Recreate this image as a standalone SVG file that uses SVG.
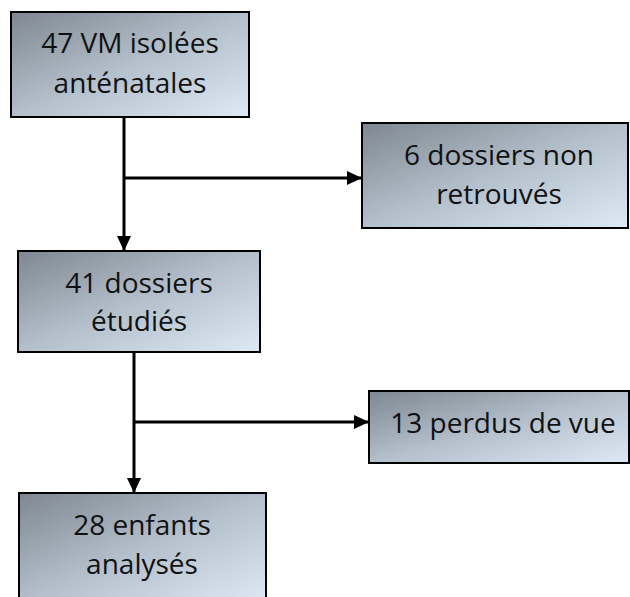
<svg xmlns="http://www.w3.org/2000/svg" width="630" height="597" viewBox="0 0 630 597">
<defs>
<linearGradient id="g" x1="0" y1="0" x2="1" y2="1">
<stop offset="0" stop-color="#7e8791"/>
<stop offset="0.5" stop-color="#b3bfcb"/>
<stop offset="1" stop-color="#dde9f5"/>
</linearGradient>
<marker id="ah" markerUnits="userSpaceOnUse" markerWidth="16" markerHeight="14" refX="15" refY="7" orient="auto">
<path d="M0,0 L15,7 L0,14 Z" fill="#000"/>
</marker>
<style>
.box{fill:url(#g);stroke:#000;stroke-width:2}
.t{font-family:"Open Sans","Noto Sans",sans-serif;font-size:28px;fill:#111;text-anchor:middle}
.c{stroke:#000;stroke-width:3;fill:none}
</style>
</defs>
<g id="connectors">
<line class="c" x1="124" y1="117" x2="124" y2="251" marker-end="url(#ah)"/>
<line class="c" x1="124" y1="178" x2="362" y2="178" marker-end="url(#ah)"/>
<line class="c" x1="134" y1="352" x2="134" y2="493" marker-end="url(#ah)"/>
<line class="c" x1="134" y1="422" x2="369" y2="422" marker-end="url(#ah)"/>
</g>
<g id="n1">
<rect class="box" x="11" y="12" width="238" height="105"/>
<text class="t" x="130" y="53">47 VM isolées</text>
<text class="t" x="130" y="93">anténatales</text>
</g>
<g id="n2">
<rect class="box" x="362" y="123" width="266" height="105"/>
<text class="t" x="499" y="165">6 dossiers non</text>
<text class="t" x="499" y="204">retrouvés</text>
</g>
<g id="n3">
<rect class="box" x="18" y="251" width="242" height="101"/>
<text class="t" x="139" y="293">41 dossiers</text>
<text class="t" x="139" y="331">étudiés</text>
</g>
<g id="n4">
<rect class="box" x="369" y="391" width="260" height="72"/>
<text class="t" x="503" y="433">13 perdus de vue</text>
</g>
<g id="n5">
<rect class="box" x="19" y="493" width="247" height="110"/>
<text class="t" x="142" y="535">28 enfants</text>
<text class="t" x="142" y="574">analysés</text>
</g>
</svg>
